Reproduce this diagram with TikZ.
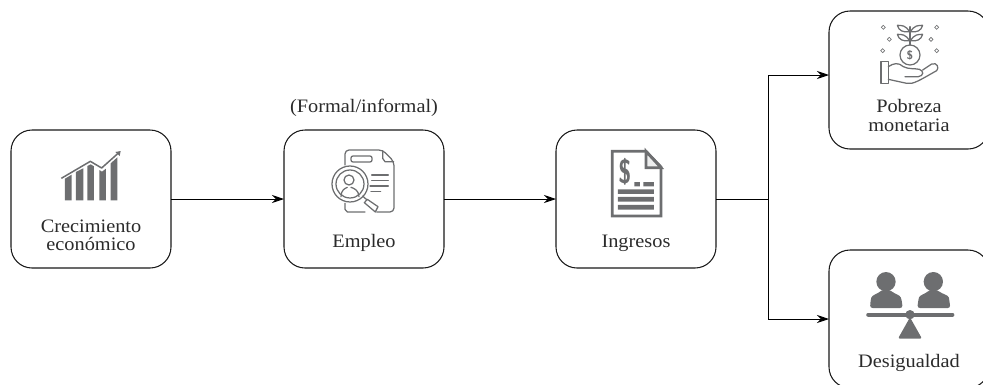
\documentclass[tikz,border=0pt]{standalone}
\usepackage{fontspec}
\usepackage{graphicx}
\setmainfont[FakeStretch=1.07]{Liberation Serif}
\usetikzlibrary{arrows.meta}
\definecolor{icongrey}{HTML}{6D6E70}
\definecolor{inktext}{HTML}{2B2B2B}
\tikzset{
  stagebox/.style={draw=black!90,line width=1.05pt,rounded corners=21pt,minimum width=160pt,minimum height=138pt,inner sep=0pt,outer sep=0pt},
  lab/.style={text=inktext,font=\fontsize{19}{18}\selectfont,align=center,inner sep=0pt,anchor=base},
  flow/.style={draw=black,line width=0.9pt,-{Stealth[length=12pt,width=8pt]}},
  plainflow/.style={draw=black,line width=0.9pt},
  ico/.style={x=0.3333pt,y=-0.3333pt},
  iconline/.style={draw=icongrey,line width=1.25pt,line cap=round,line join=round,fill=none},
  spark/.style={draw=icongrey,line width=0.6pt,fill=none}
}
\begin{document}
\begin{tikzpicture}[x=1pt,y=-1pt]
\useasboundingbox (0,0) rectangle (983,384);
\clip (0,0) rectangle (983,384);
% boxes
\node[stagebox] (crec) at (91,199) {};
\node[stagebox] (emp) at (364,199) {};
\node[stagebox] (ing) at (636,199) {};
\node[stagebox] (pob) at (909,80) {};
\node[stagebox] (des) at (909,319) {};
% labels
\node[lab] (lc1) at (91,232) {Crecimiento};
\node[lab] (lc2) at (91,250) {económico};
\node[lab] (le) at (364,247) {Empleo};
\node[lab] (li) at (636,247) {Ingresos};
\node[lab] (lp1) at (909,112) {Pobreza};
\node[lab] (lp2) at (909,131) {monetaria};
\node[lab] (ld) at (909,367) {Desigualdad};
\node[lab] (lf) at (364,112) {(Formal/informal)};
% connectors
\coordinate (fork) at (768,199);
\coordinate (inpob) at (829,75);
\coordinate (indes) at (829,319);
\draw[flow] (crec.east) -- (emp.west);
\draw[flow] (emp.east) -- (ing.west);
\draw[plainflow] (ing.east) -- (fork);
\draw[flow] (fork) |- (inpob);
\draw[flow] (fork) |- (indes);
% icon 1: chart
\begin{scope}[shift={(0,120)},ico]
\fill[icongrey] (195,176) -- (215,164) -- (215,241) -- (195,241) -- cycle;
\fill[icongrey] (228,156) -- (250,145) -- (250,241) -- (228,241) -- cycle;
\fill[icongrey] (262,138) -- (272,133) -- (282,139) -- (282,241) -- (262,241) -- cycle;
\fill[icongrey] (298,150) -- (306,155) -- (318,146) -- (318,241) -- (298,241) -- cycle;
\fill[icongrey] (332,130) -- (352,112) -- (352,241) -- (332,241) -- cycle;
\draw[icongrey,line width=1.5pt,line join=round] (184,175) -- (271,124) -- (305,144) -- (352,102);
\fill[icongrey] (362,93) -- (359,108) -- (346,96) -- cycle;
\end{scope}
% icon 2: document and magnifier
\begin{scope}[shift={(270,90)},ico]
\draw[iconline,rounded corners=4pt] (225,225) -- (225,180) -- (338,180) -- (372,215) -- (372,366) -- (320,366);
\draw[iconline] (225,340) -- (225,358) -- (232,366) -- (285,366);
\draw[iconline] (338,182) -- (338,205) -- (345,215) -- (371,215);
\draw[iconline,rounded corners=2pt] (243,198) rectangle (306,216);
\draw[iconline] (305,255) -- (355,255) (305,272) -- (355,272) (300,288) -- (355,288) (303,304) -- (332,304);
\draw[iconline] (240,282) circle[radius=54];
\draw[iconline] (240,282) circle[radius=42];
\draw[iconline] (237,270) circle[radius=15];
\draw[iconline] (213,320) .. controls (213,300) and (225,295) .. (232,292) (243,292) .. controls (252,295) and (266,300) .. (267,320);
\draw[iconline] (278,318) -- (291,330);
\draw[iconline] (292,328) -- (324,350) -- (316,366) -- (283,338) -- cycle;
\end{scope}
% icon 3: invoice
\begin{scope}[shift={(545,120)},ico]
\draw[icongrey,line width=2.8pt] (202,94) -- (303,94) -- (348,141) -- (348,288) -- (202,288) -- cycle;
\draw[icongrey,line width=2.8pt,fill=icongrey!12] (303,94) -- (303,143) -- (348,143) -- cycle;
\node[text=icongrey,font=\fontsize{28}{28}\selectfont\sffamily\bfseries,inner sep=0pt] (dollar) at (240,155) {\scalebox{0.85}[1.2]{\$}};
\fill[icongrey] (268,186) rectangle (285,199) (295,186) rectangle (327,199);
\fill[icongrey] (219,208) rectangle (327,222) (219,231) rectangle (327,245) (219,255) rectangle (327,269);
\end{scope}
% icon 4: hand and plant
\begin{scope}[shift={(820,0)},ico]
\foreach \px/\py in {190/82,350/82,208/118,333/118,188/152,350/152}
  \draw[spark] (\px-6,\py) -- (\px,\py-6) -- (\px+6,\py) -- (\px,\py+6) -- cycle;
\draw[iconline] (270,80) -- (270,135);
\draw[iconline] (268,95) .. controls (258,76) and (245,76) .. (232,76) .. controls (236,92) and (250,98) .. (268,95);
\draw[iconline] (272,95) .. controls (282,76) and (295,76) .. (308,76) .. controls (304,92) and (290,98) .. (272,95);
\draw[iconline] (268,122) .. controls (258,103) and (245,103) .. (232,103) .. controls (236,119) and (250,125) .. (268,122);
\draw[iconline] (272,122) .. controls (282,103) and (295,103) .. (308,103) .. controls (304,119) and (290,125) .. (272,122);
\draw[iconline] (270,165) circle[radius=30];
\node[text=icongrey,font=\fontsize{12}{12}\selectfont\sffamily\bfseries,inner sep=0pt] (coin) at (270,165) {\$};
\draw[iconline] (205,184) -- (183,184) -- (183,250) -- (205,250) -- cycle;
\draw[iconline] (205,200) .. controls (220,190) and (235,186) .. (250,200) .. controls (265,208) and (285,205) .. (298,208) .. controls (312,212) and (312,228) .. (295,230) -- (255,230);
\draw[iconline] (205,238) -- (260,250) .. controls (280,254) and (300,240) .. (350,212) .. controls (358,204) and (352,186) .. (335,192) -- (308,210);
\end{scope}
% icon 5: people on scale
\begin{scope}[shift={(820,240)},ico]
\fill[icongrey] (198,125) circle[radius=29];
\fill[icongrey] (340,125) circle[radius=29];
\fill[icongrey,rounded corners=2.5pt] (150,204) -- (152,180) .. controls (156,165) and (172,162) .. (185,150) -- (210,150) .. controls (225,162) and (240,165) .. (245,180) -- (248,204) -- cycle;
\fill[icongrey,rounded corners=2.5pt] (292,204) -- (295,180) .. controls (299,165) and (315,162) .. (328,150) -- (352,150) .. controls (367,162) and (385,165) .. (388,180) -- (391,204) -- cycle;
\draw[icongrey,line width=4.2pt,line cap=round] (145,224) -- (397,224);
\fill[icongrey,rounded corners=2pt] (270,232) -- (306,296) -- (234,296) -- cycle;
\fill[icongrey] (270,224) circle[radius=14];
\end{scope}
\end{tikzpicture}
\end{document}
